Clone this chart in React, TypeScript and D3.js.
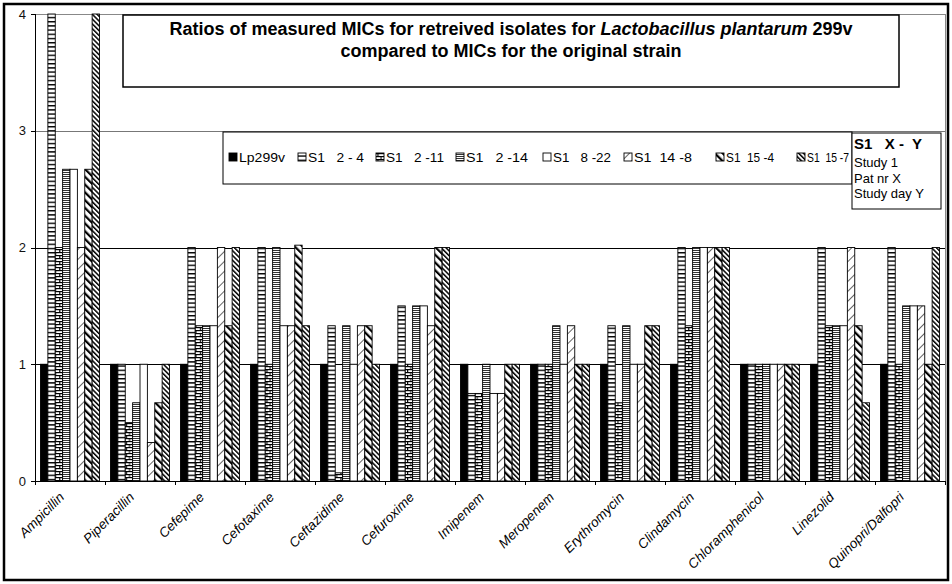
import React from "react";
import * as d3 from "d3";

const categories = [
  "Ampicillin", "Piperacillin", "Cefepime", "Cefotaxime", "Ceftazidime", "Cefuroxime",
  "Imipenem", "Meropenem", "Erythromycin", "Clindamycin", "Chloramphenicol", "Linezolid",
  "Quinopri/Dalfopri",
];
const seriesNames = ["Lp299v", "S1   2 - 4", "S1   2 -11", "S1   2 -14", "S1   8 -22", "S1  14 -8", "S1  15 -4", "S1  15 -7"];
const lp299v = [1, 1, 1, 1, 1, 1, 1, 1, 1, 1, 1, 1, 1];
const s1_2_4 = [4, 1, 2, 2, 1.33, 1.5, 0.75, 1, 1.33, 2, 1, 2, 2];
const s1_2_11 = [2, 0.5, 1.33, 1, 0.07, 1, 0.75, 1, 0.67, 1.33, 1, 1.33, 1];
const s1_2_14 = [2.67, 0.67, 1.33, 2, 1.33, 1.5, 1, 1.33, 1.33, 2, 1, 1.33, 1.5];
const s1_8_22 = [2.67, 1, 1.33, 1.33, 1, 1.5, 0.75, 1, 1, 2, 1, 1.33, 1.5];
const s1_14_8 = [2, 0.33, 2, 1.33, 1.33, 1.33, 0.75, 1.33, 1, 2, 1, 2, 1.5];
const s1_15_4 = [2.67, 0.67, 1.33, 2.02, 1.33, 2, 1, 1, 1.33, 2, 1, 1.33, 1];
const s1_15_7 = [4, 1, 2, 1.33, 1, 2, 1, 1, 1.33, 2, 1, 0.67, 2];
const seriesValues = [lp299v, s1_2_4, s1_2_11, s1_2_14, s1_8_22, s1_14_8, s1_15_4, s1_15_7];
const yTicks = [0, 1, 2, 3, 4];
const titleLine1 = ["Ratios of measured MICs for retreived isolates for ", "Lactobacillus plantarum", " 299v"];
const titleLine2 = "compared to MICs for the original strain";
const noteTitle = "S1   X -  Y";
const noteLines = ["Study 1", "Pat nr X", "Study day Y"];

const FONT = "'Liberation Sans', Arial, sans-serif";
const W = 952, H = 584;
const plot = { left: 35, right: 945, top: 14, bottom: 481 };
const legendX = [229, 298, 376, 456, 543, 624, 716, 797];
const legendTextLen = [46, 56, 58, 62, 58, 58, 48, 42];
const fills = ["#000", "url(#p2)", "url(#p3)", "url(#p4)", "#fff", "url(#p6)", "url(#p7)", "url(#p8)"];

export default function App() {
  const x0 = d3.scaleBand<string>().domain(categories).range([plot.left, plot.right]).paddingInner(0.157).paddingOuter(0.0786);
  const x1 = d3.scaleBand<number>().domain(d3.range(seriesNames.length)).range([0, x0.bandwidth()]);
  const y = d3.scaleLinear().domain([0, 4]).range([plot.bottom, plot.top]);
  const step = (plot.right - plot.left) / categories.length;

  return (
    <div>
      <style>{`body{margin:0}`}</style>
      <svg width={W} height={H} style={{ display: "block", fontFamily: FONT }}>
        <defs>
          <pattern id="p2" width="8" height="4.2" patternUnits="userSpaceOnUse">
            <rect width="8" height="4.2" fill="#fff" />
            <rect y="0" width="8" height="1.4" fill="#000" />
          </pattern>
          <pattern id="p3" width="7.4" height="6" patternUnits="userSpaceOnUse">
            <rect width="7.4" height="6" fill="#fff" />
            <rect y="0" width="7.4" height="1.2" fill="#000" />
            <rect y="3" width="7.4" height="1.2" fill="#000" />
            <rect x="3.2" y="0" width="1" height="3" fill="#000" />
            <rect x="0" y="3" width="1.2" height="3" fill="#000" />
          </pattern>
          <pattern id="p4" width="8" height="2" patternUnits="userSpaceOnUse">
            <rect width="8" height="2" fill="#fff" />
            <rect width="8" height="1" fill="#333" />
          </pattern>
          <pattern id="p6" width="7" height="7" patternUnits="userSpaceOnUse" patternTransform="rotate(45)">
            <rect width="7" height="7" fill="#fff" />
            <rect width="0.9" height="7" fill="#555" />
          </pattern>
          <pattern id="p7" width="5.5" height="5.5" patternUnits="userSpaceOnUse" patternTransform="rotate(-45)">
            <rect width="5.5" height="5.5" fill="#fff" />
            <rect width="2.2" height="5.5" fill="#000" />
          </pattern>
          <pattern id="p8" width="3.4" height="3.4" patternUnits="userSpaceOnUse" patternTransform="rotate(-45)">
            <rect width="3.4" height="3.4" fill="#fff" />
            <rect width="1.5" height="3.4" fill="#000" />
          </pattern>
        </defs>

        {/* outer frame */}
        <rect x={4} y={4} width={944} height={576} fill="#fff" stroke="#000" strokeWidth={2.5} />

        {/* plot border (gray) */}
        <line x1={plot.left} x2={plot.right} y1={plot.top + 0.5} y2={plot.top + 0.5} stroke="#888" />
        <line x1={plot.right + 0.5} x2={plot.right + 0.5} y1={plot.top} y2={plot.bottom} stroke="#888" />

        {/* gridlines */}
        {yTicks.filter((t) => t > 0 && t < 4).map((t) => (
          <line key={t} x1={plot.left} x2={plot.right} y1={Math.round(y(t)) + 0.5} y2={Math.round(y(t)) + 0.5}
            stroke={t === 3 ? "#777" : "#000"} strokeWidth={1} />
        ))}

        {/* bars */}
        {categories.map((c, ci) => (
          <g key={c}>
            {seriesValues.map((vals, si) => {
              const v = vals[ci];
              const bx = (x0(c) as number) + (x1(si) as number);
              return (
                <rect key={si} x={bx} y={y(v)} width={x1.bandwidth()} height={plot.bottom - y(v)}
                  fill={fills[si]} stroke="#000" strokeWidth={0.9} />
              );
            })}
          </g>
        ))}

        {/* y axis */}
        <line x1={plot.left + 0.5} x2={plot.left + 0.5} y1={plot.top} y2={plot.bottom} stroke="#000" />
        {yTicks.map((t) => (
          <g key={t}>
            <line x1={plot.left - 4} x2={plot.left} y1={Math.round(y(t)) + 0.5} y2={Math.round(y(t)) + 0.5} stroke="#000" />
            <text x={26} y={y(t) + 4.5} textAnchor="end" fontSize={13} fill="#111">{t}</text>
          </g>
        ))}

        {/* x axis */}
        <line x1={plot.left} x2={plot.right} y1={plot.bottom + 0.5} y2={plot.bottom + 0.5} stroke="#000" />
        {d3.range(categories.length + 1).map((i) => (
          <line key={i} x1={Math.round(plot.left + i * step) + 0.5} x2={Math.round(plot.left + i * step) + 0.5}
            y1={plot.bottom} y2={plot.bottom + 4} stroke="#000" />
        ))}
        {categories.map((c) => {
          const cx = (x0(c) as number) + x0.bandwidth() / 2;
          return (
            <text key={c} transform={`translate(${cx - 5},${plot.bottom + 17}) rotate(-45)`} textAnchor="end"
              fontSize={13.5} fontStyle="italic" fill="#000">{c}</text>
          );
        })}

        {/* title box */}
        <rect x={123} y={15} width={776} height={72} fill="#fff" stroke="#000" strokeWidth={1.5} />
        <text x={511} y={35} textAnchor="middle" fontSize={18} fontWeight="bold" fill="#000">
          <tspan>{titleLine1[0]}</tspan>
          <tspan fontStyle="italic">{titleLine1[1]}</tspan>
          <tspan>{titleLine1[2]}</tspan>
        </text>
        <text x={511} y={57} textAnchor="middle" fontSize={18} fontWeight="bold" fill="#000">{titleLine2}</text>

        {/* legend */}
        <rect x={223} y={132} width={629} height={52} fill="#fff" stroke="#000" strokeWidth={1} />
        {seriesNames.map((s, i) => (
          <g key={s}>
            <rect x={legendX[i]} y={153} width={8} height={8} fill={fills[i]} stroke="#000" strokeWidth={0.9} />
            <text x={legendX[i] + 10} y={162} fontSize={13} fill="#000" textLength={legendTextLen[i]}
              lengthAdjust="spacingAndGlyphs" style={{ whiteSpace: "pre" }}>{s}</text>
          </g>
        ))}

        {/* note box */}
        <rect x={852} y={133} width={89} height={76} fill="#fff" stroke="#000" strokeWidth={1} />
        <text x={854} y={149} fontSize={15} fontWeight="bold" fill="#000" style={{ whiteSpace: "pre" }}>{noteTitle}</text>
        {noteLines.map((l, i) => (
          <text key={l} x={854} y={167 + i * 15.5} fontSize={13} fill="#000">{l}</text>
        ))}
      </svg>
    </div>
  );
}
